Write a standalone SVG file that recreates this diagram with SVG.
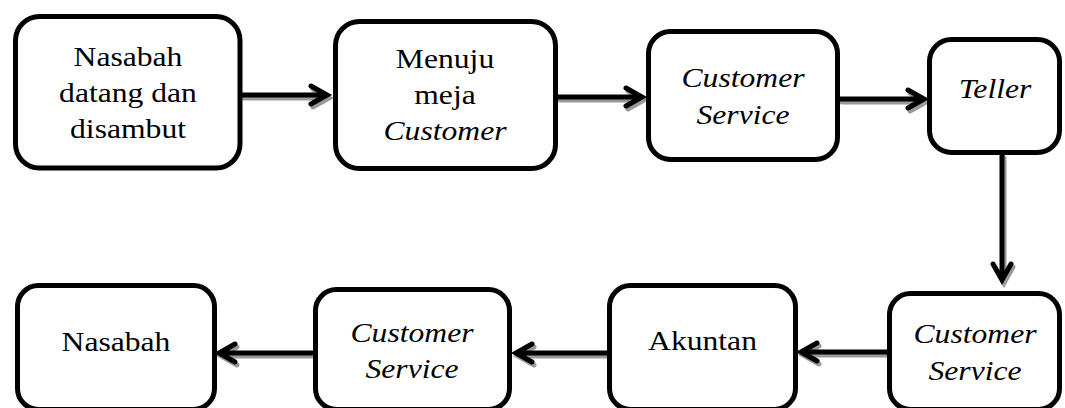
<svg xmlns="http://www.w3.org/2000/svg" width="1065" height="408" viewBox="0 0 1065 408">
<style>
.box{fill:#fff;stroke:#000;stroke-width:5}
.bsh{fill:none;stroke:#b0b0b0;stroke-width:5}
.t{font-family:"Liberation Serif","Times New Roman",serif;font-size:28px;fill:#000;text-anchor:middle}
.i{font-style:italic}
.ln{fill:none;stroke:#000;stroke-width:5;stroke-linecap:round;stroke-linejoin:miter}
.sh{fill:none;stroke:#9a9a9a;stroke-width:5;stroke-linecap:round;stroke-linejoin:miter}
</style>
<rect width="1065" height="408" fill="#fff"/>
<g id="connectors">
  <g transform="translate(2,3)">
    <path class="sh" d="M242 95H326M311 86L327 95L311 104"/>
    <path class="sh" d="M558 97H641M626 88L642 97L626 106"/>
    <path class="sh" d="M840 99H923M908 90L924 99L908 108"/>
    <path class="sh" d="M1002 155V278M993 264L1002 280L1011 264"/>
    <path class="sh" d="M887 352H802M817 343L801 352L817 361"/>
    <path class="sh" d="M607 353H517M532 344L516 353L532 362"/>
    <path class="sh" d="M312 353H220M235 344L219 353L235 362"/>
  </g>
  <path class="ln" d="M242 95H326M311 86L327 95L311 104"/>
  <path class="ln" d="M558 97H641M626 88L642 97L626 106"/>
  <path class="ln" d="M840 99H923M908 90L924 99L908 108"/>
  <path class="ln" d="M1002 155V278M993 264L1002 280L1011 264"/>
  <path class="ln" d="M887 352H802M817 343L801 352L817 361"/>
  <path class="ln" d="M607 353H517M532 344L516 353L532 362"/>
  <path class="ln" d="M312 353H220M235 344L219 353L235 362"/>
</g>
<g id="n1">
  <rect class="box" x="15.5" y="16.5" width="224.5" height="151.5" rx="24"/>
  <text class="t" transform="matrix(1.13,0,0,1,128,0)"><tspan x="0" y="66">Nasabah</tspan><tspan x="0" y="102">datang dan</tspan><tspan x="0" y="138">disambut</tspan></text>
</g>
<g id="n2">
  <rect class="box" x="335.5" y="21.5" width="220" height="147" rx="24"/>
  <text class="t" transform="matrix(1.13,0,0,1,445,0)"><tspan x="0" y="68">Menuju</tspan><tspan x="0" y="104">meja</tspan><tspan x="0" y="140" class="i">Customer</tspan></text>
</g>
<g id="n3">
  <rect class="box" x="648.5" y="31.5" width="189" height="128" rx="22"/>
  <text class="t i" transform="matrix(1.13,0,0,1,743,0)"><tspan x="0" y="87">Customer</tspan><tspan x="0" y="124">Service</tspan></text>
</g>
<g id="n4">
  <rect class="box" x="929.5" y="39.5" width="130" height="113" rx="22"/>
  <text class="t i" transform="matrix(1.13,0,0,1,995,0)" x="0" y="98">Teller</text>
</g>
<g id="n5">
  <rect class="box" x="889.5" y="293.5" width="170" height="116" rx="21"/>
  <text class="t i" transform="matrix(1.13,0,0,1,975,0)"><tspan x="0" y="343">Customer</tspan><tspan x="0" y="380">Service</tspan></text>
</g>
<g id="n6">
  <rect class="box" x="609.5" y="285.5" width="186" height="124" rx="21"/>
  <text class="t" transform="matrix(1.13,0,0,1,702.5,0)" x="0" y="350">Akuntan</text>
</g>
<g id="n7">
  <rect class="box" x="315.5" y="289.5" width="194" height="120" rx="21"/>
  <text class="t i" transform="matrix(1.13,0,0,1,412,0)"><tspan x="0" y="342">Customer</tspan><tspan x="0" y="378">Service</tspan></text>
</g>
<g id="n8">
  <rect class="box" x="17.5" y="285.5" width="197" height="124" rx="21"/>
  <text class="t" transform="matrix(1.13,0,0,1,116,0)" x="0" y="351">Nasabah</text>
</g>
</svg>
